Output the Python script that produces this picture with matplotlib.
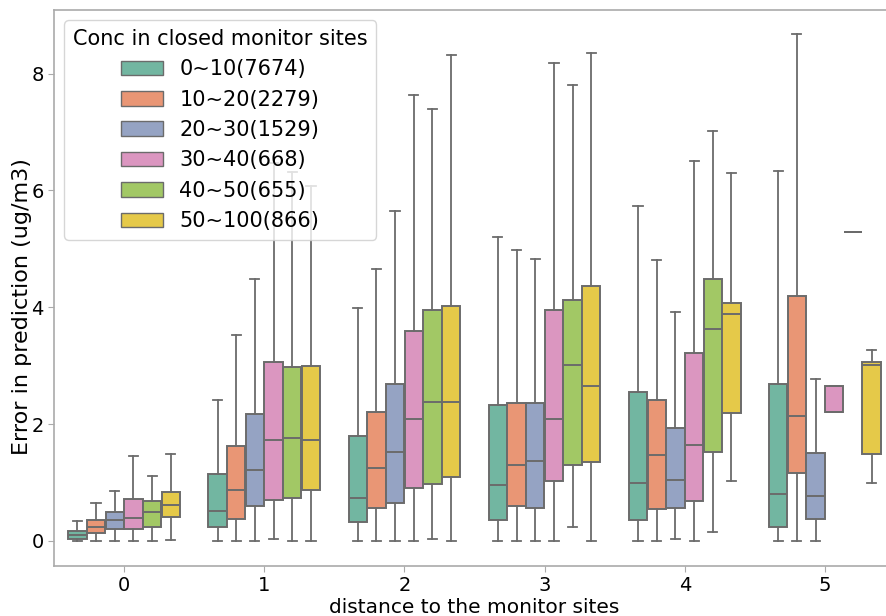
import matplotlib
matplotlib.use('Agg')
import matplotlib.pyplot as plt
import matplotlib.patches as mpatches
import seaborn as sns

distances = [0, 1, 2, 3, 4, 5]
conc_labels = ['0~10(7674)', '10~20(2279)', '20~30(1529)', '30~40(668)', '40~50(655)', '50~100(866)']

# summary stats per distance, one row per concentration band
# each entry: (whislo, q1, median, q3, whishi)
stats_d0 = [(0.00, 0.04, 0.10, 0.165, 0.34),
            (0.00, 0.14, 0.24, 0.35, 0.645),
            (0.00, 0.205, 0.365, 0.50, 0.86),
            (0.00, 0.205, 0.39, 0.71, 1.45),
            (0.00, 0.245, 0.50, 0.68, 1.11),
            (0.01, 0.41, 0.61, 0.845, 1.49)]
stats_d1 = [(0.00, 0.245, 0.515, 1.14, 2.42),
            (0.00, 0.38, 0.87, 1.63, 3.52),
            (0.00, 0.59, 1.22, 2.17, 4.48),
            (0.03, 0.70, 1.72, 3.06, 6.47),
            (0.00, 0.74, 1.76, 2.98, 6.32),
            (0.00, 0.87, 1.72, 3.00, 6.08)]
stats_d2 = [(0.00, 0.32, 0.73, 1.79, 3.98),
            (0.00, 0.57, 1.25, 2.21, 4.65),
            (0.00, 0.65, 1.53, 2.69, 5.65),
            (0.00, 0.90, 2.09, 3.60, 7.64),
            (0.04, 0.98, 2.38, 3.96, 7.40),
            (0.00, 1.10, 2.37, 4.03, 8.32)]
stats_d3 = [(0.00, 0.36, 0.95, 2.32, 5.21),
            (0.00, 0.59, 1.30, 2.36, 4.98),
            (0.00, 0.57, 1.36, 2.36, 4.83),
            (0.00, 1.02, 2.09, 3.95, 8.19),
            (0.245, 1.30, 3.02, 4.12, 7.80),
            (0.00, 1.35, 2.65, 4.36, 8.35)]
stats_d4 = [(0.00, 0.36, 0.99, 2.55, 5.74),
            (0.00, 0.55, 1.47, 2.42, 4.81),
            (0.03, 0.57, 1.05, 1.94, 3.92),
            (0.00, 0.69, 1.65, 3.22, 6.50),
            (0.16, 1.52, 3.62, 4.49, 7.02),
            (1.03, 2.19, 3.88, 4.07, 6.30)]
stats_d5 = [(0.00, 0.245, 0.81, 2.69, 6.34),
            (0.00, 1.16, 2.14, 4.20, 8.68),
            (0.00, 0.37, 0.77, 1.50, 2.77),
            (2.21, 2.21, 2.21, 2.65, 2.65),
            (5.29, 5.29, 5.29, 5.29, 5.29),
            (0.99, 1.49, 3.02, 3.06, 3.26)]
all_stats = [stats_d0, stats_d1, stats_d2, stats_d3, stats_d4, stats_d5]

palette = sns.color_palette('Set2', 6, desat=0.75)
gray = '#6b6b6b'

fig = plt.figure(figsize=(8.86, 6.16), dpi=100)
ax = fig.add_axes([54 / 886, 50 / 616, 841 / 886, 556 / 616])

n = len(conc_labels)
width = 0.8 / n
for i, d in enumerate(distances):
    for j in range(n):
        lo, q1, med, q3, hi = all_stats[i][j]
        pos = d - 0.4 + width / 2 + j * width
        ax.bxp([dict(whislo=lo, q1=q1, med=med, q3=q3, whishi=hi, fliers=[])],
               positions=[pos], widths=[width * 0.98], patch_artist=True,
               showfliers=False, manage_ticks=False,
               boxprops=dict(facecolor=palette[j], edgecolor=gray, linewidth=1.4),
               medianprops=dict(color=gray, linewidth=1.4),
               whiskerprops=dict(color=gray, linewidth=1.3),
               capprops=dict(color=gray, linewidth=1.3))

ax.set_xlim(-0.5, 5.5)
ax.set_ylim(-0.43, 9.09)
ax.set_xticks(distances)
ax.set_xticklabels([str(d) for d in distances])
ax.set_yticks([0, 2, 4, 6, 8])
ax.tick_params(labelsize=14, color='#aaaaaa', length=4)
for s in ax.spines.values():
    s.set_color('#aaaaaa')
    s.set_linewidth(1.2)
ax.set_xlabel('distance to the monitor sites', fontsize=14.5, labelpad=2)
ax.set_ylabel('Error in prediction (ug/m3)', fontsize=16)
ax.yaxis.set_label_coords(-0.026, 0.466)

handles = [mpatches.Patch(facecolor=palette[j], edgecolor=gray, linewidth=1.0, label=conc_labels[j])
           for j in range(n)]
ax.legend(handles=handles, title='Conc in closed monitor sites', loc='upper left',
          fontsize=15, title_fontsize=15, frameon=True, borderaxespad=0.5)

fig.savefig('out.png', dpi=100)
